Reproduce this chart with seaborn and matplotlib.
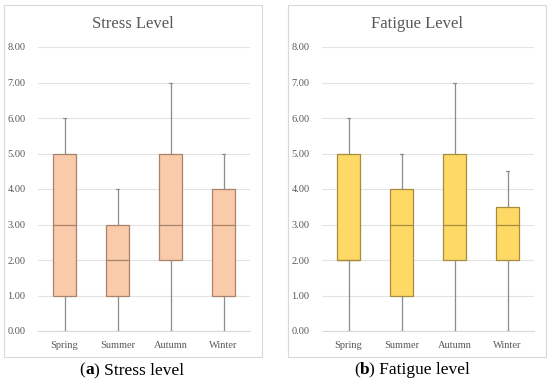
import numpy as np
import pandas as pd
import matplotlib
matplotlib.use("Agg")
import matplotlib.pyplot as plt
import seaborn as sns
from matplotlib.patches import Rectangle
from matplotlib.offsetbox import TextArea, HPacker, AnnotationBbox

# Data: five-number summaries (min, Q1, median, Q3, max) per season
seasons = ["Spring", "Summer", "Autumn", "Winter"]
stress_spring = [0, 1, 3, 5, 6]
stress_summer = [0, 1, 2, 3, 4]
stress_autumn = [0, 2, 3, 5, 7]
stress_winter = [0, 1, 3, 4, 5]
fatigue_spring = [0, 2, 2, 5, 6]
fatigue_summer = [0, 1, 3, 4, 5]
fatigue_autumn = [0, 2, 3, 5, 7]
fatigue_winter = [0, 2, 3, 3.5, 4.5]
yticks = [0, 1, 2, 3, 4, 5, 6, 7, 8]

titles = ["Stress Level", "Fatigue Level"]
captions = [("a", " Stress level"), ("b", " Fatigue level")]

def frame(vals_list):
    rows = []
    for s, vals in zip(seasons, vals_list):
        for v in vals:
            rows.append({"Season": s, "Value": v})
    return pd.DataFrame(rows)

stress_df = frame([stress_spring, stress_summer, stress_autumn, stress_winter])
fatigue_df = frame([fatigue_spring, fatigue_summer, fatigue_autumn, fatigue_winter])

sns.set_theme(style="white")
plt.rcParams["font.family"] = ["Liberation Serif", "DejaVu Serif"]

fig = plt.figure(figsize=(5.5, 3.83), dpi=100)

W, H = 550.0, 383.0
panels = [
    dict(df=stress_df, fill="#F9CBAB", edge="#A8836A", ax_left=38, panel_left=4, cap_x=132),
    dict(df=fatigue_df, fill="#FFD966", edge="#A68C3C", ax_left=322, panel_left=288, cap_x=412),
]

for i, p in enumerate(panels):
    # panel border
    fig.patches.append(Rectangle((p["panel_left"] / W, (H - 357) / H), 258 / W, 352 / H,
                                 transform=fig.transFigure, fill=False,
                                 edgecolor="#D9D9D9", linewidth=0.8, zorder=0))
    ax = fig.add_axes([p["ax_left"] / W, (H - 331) / H, 212 / W, 284 / H])
    sns.boxplot(data=p["df"], x="Season", y="Value", order=seasons, ax=ax,
                whis=(0, 100), width=0.42, color=p["fill"], saturation=1,
                linewidth=0.9, showfliers=False,
                boxprops=dict(facecolor=p["fill"], edgecolor=p["edge"], linewidth=0.9),
                medianprops=dict(color=p["edge"], linewidth=0.9),
                whiskerprops=dict(color="#8C8C8C", linewidth=0.9),
                capprops=dict(color="#8C8C8C", linewidth=0.9),
                capwidths=0.05)
    ax.set_xlim(-0.5, 3.5)
    ax.set_ylim(0, 8)
    ax.set_yticks(yticks)
    ax.set_yticklabels([f"{v:.2f}" for v in yticks])
    ax.yaxis.grid(True, color="#E3E3E3", linewidth=0.8)
    ax.set_axisbelow(True)
    for s in ["left", "right", "top"]:
        ax.spines[s].set_visible(False)
    ax.spines["bottom"].set_color("#D9D9D9")
    ax.spines["bottom"].set_linewidth(0.8)
    ax.spines["bottom"].set_zorder(0.5)
    ax.tick_params(axis="both", length=0, labelsize=7.5, colors="#595959")
    ax.tick_params(axis="y", pad=9)
    ax.tick_params(axis="x", pad=7)
    ax.set_xlabel("")
    ax.set_ylabel("")
    fig.text((p["panel_left"] + 129) / W, 1 - 24 / H, titles[i], fontsize=12,
             color="#595959", ha="center", va="center")

    letter, rest = captions[i]
    parts = [TextArea("(", textprops=dict(fontsize=12.5, color="black")),
             TextArea(letter, textprops=dict(fontsize=12.5, color="black", fontweight="bold")),
             TextArea(")" + rest, textprops=dict(fontsize=12.5, color="black"))]
    box = HPacker(children=parts, align="baseline", pad=0, sep=0)
    ab = AnnotationBbox(box, (p["cap_x"] / W, (H - 370) / H), xycoords="figure fraction",
                        frameon=False, box_alignment=(0.5, 0.5), pad=0)
    fig.add_artist(ab)

fig.savefig("out.png", dpi=100)
